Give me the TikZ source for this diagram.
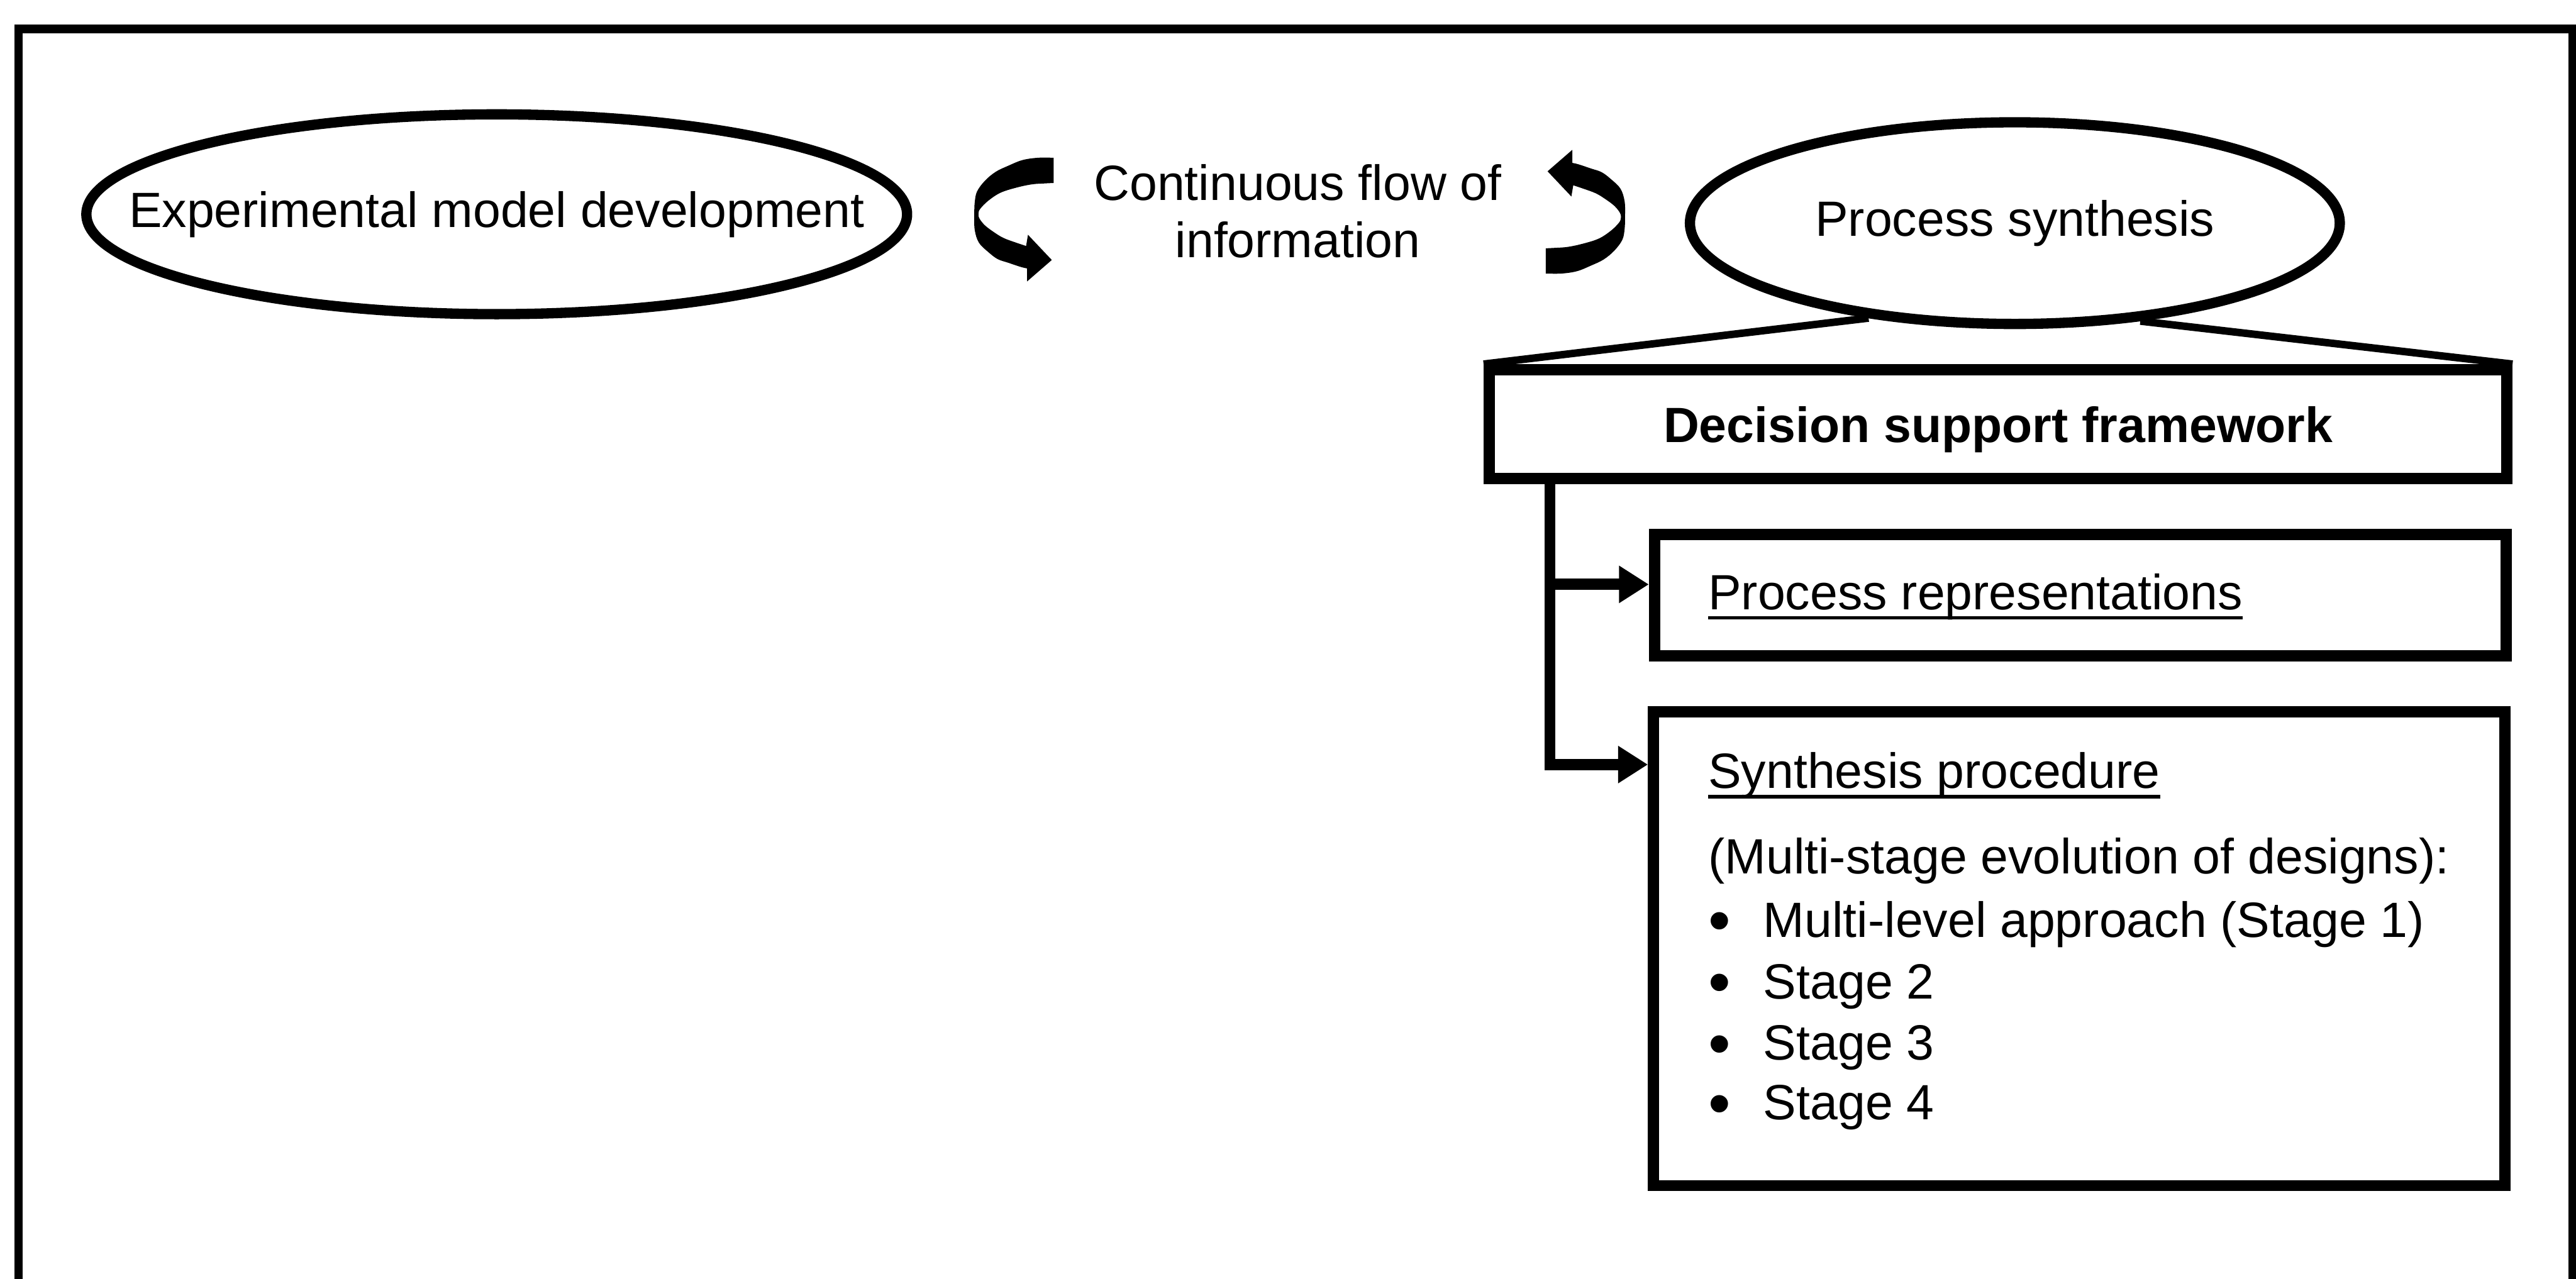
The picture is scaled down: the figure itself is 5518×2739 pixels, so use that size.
\documentclass[tikz,border=0pt]{standalone}
\usepackage{fontspec}
\setmainfont{Liberation Sans}
\usetikzlibrary{shapes.geometric,arrows.meta}
\newsavebox\ulbox
\newcommand\ulx[1]{\sbox\ulbox{#1}\rlap{\rule[-0.2em]{\wd\ulbox}{0.065em}}\usebox\ulbox}
\newcommand\bul{\makebox[5.9mm][l]{\raisebox{-1.6pt}{\fontsize{19.5pt}{19.5pt}\selectfont •}}}
\begin{document}
\begin{tikzpicture}[x=0.05mm,y=-0.05mm,
  txt/.style={font=\fontsize{15.1pt}{17.4pt}\selectfont, inner sep=0pt},
  ell/.style={draw, ellipse, line width=1.1mm, inner sep=0pt, txt},
  boxx/.style={draw, rectangle, line width=1.2mm, inner sep=0pt},
  conn/.style={line width=1.2mm, -{Triangle[length=3.2mm,width=3.8mm]}},
  fan/.style={line width=0.8mm},
  frame/.style={line width=0.9mm},
  swirl/.style={fill=black}]
\useasboundingbox (0,0) rectangle (5518,2739);
\clip (0,0) rectangle (5518,2739);
% outer frame (bottom cut off)
\draw[frame] (40,2800) -- (40,62) -- (5511,62) -- (5511,2800);

% ellipses
\node[ell, minimum width=87.9mm, minimum height=21.4mm] (emd) at (1064,459)
  {\makebox[0pt]{Experimental model development}};
\node[ell, minimum width=69.6mm, minimum height=21.6mm] (ps) at (4316,478)
  {\makebox[0pt]{Process synthesis}};

% continuous flow text
\node[txt, align=center] (cf) at (2780,452) {Continuous flow of\\information};

% curved arrows
\fill[swirl] plot[smooth, tension=0.6] coordinates {(2257,338) (2223,338) (2190,343) (2160,355) (2133,368) (2110,387) (2093,410) (2088,433) (2087,460) (2088,493) (2097,520) (2117,540) (2137,555) (2160,563) (2187,572) (2200,575)}
  -- (2200,603) -- (2253,557) -- (2202,503) -- (2198,527)
  -- plot[smooth, tension=0.6] coordinates {(2198,527) (2177,520) (2150,510) (2130,498) (2110,483) (2098,468) (2096,457) (2100,447) (2117,430) (2143,413) (2177,402) (2210,395) (2237,393) (2257,392)}
  -- cycle;
\fill[swirl, rotate around={180:(2784,462)}] plot[smooth, tension=0.6] coordinates {(2257,338) (2223,338) (2190,343) (2160,355) (2133,368) (2110,387) (2093,410) (2088,433) (2087,460) (2088,493) (2097,520) (2117,540) (2137,555) (2160,563) (2187,572) (2200,575)}
  -- (2200,603) -- (2253,557) -- (2202,503) -- (2198,527)
  -- plot[smooth, tension=0.6] coordinates {(2198,527) (2177,520) (2150,510) (2130,498) (2110,483) (2098,468) (2096,457) (2100,447) (2117,430) (2143,413) (2177,402) (2210,395) (2237,393) (2257,392)}
  -- cycle;

% boxes
\node[boxx, minimum width=109mm, minimum height=11.65mm, txt, font=\fontsize{15.1pt}{17.4pt}\selectfont\bfseries, text height=1.11em, text depth=0pt] (dsf) at (4280,908.5) {Decision support framework};
\node[boxx, minimum width=91.2mm, minimum height=13mm] (pr) at (4456,1275) {};
\node[boxx, minimum width=91.2mm, minimum height=50.75mm] (sp) at (4454,2032.5) {};

% fan lines from ellipse to framework box
\draw[fan] (ps.213.5) -- (dsf.north west);
\draw[fan] (ps.322.3) -- (dsf.north east);

% connectors
\path (dsf.south west) ++(142,0) coordinate (trunk);
\draw[conn] (trunk) |- ([yshift=1.15mm]pr.west);
\draw[conn] (trunk) |- ([yshift=-6.25mm]sp.north west);

% texts in boxes
\node[txt, anchor=base west] (prt) at (3658,1306) {\ulx{Process representations}};
\node[txt, anchor=base west] (sp1) at (3658,1689) {\ulx{Synthesis procedure}};
\node[txt, anchor=base west] (sp2) at (3658,1872) {(Multi-stage evolution of designs):};
\node[txt, anchor=base west] (sp3) at (3658,2008) {\bul Multi-level approach (Stage 1)};
\node[txt, anchor=base west] (sp4) at (3658,2140) {\bul Stage 2};
\node[txt, anchor=base west] (sp5) at (3658,2271) {\bul Stage 3};
\node[txt, anchor=base west] (sp6) at (3658,2399) {\bul Stage 4};
\end{tikzpicture}
\end{document}
